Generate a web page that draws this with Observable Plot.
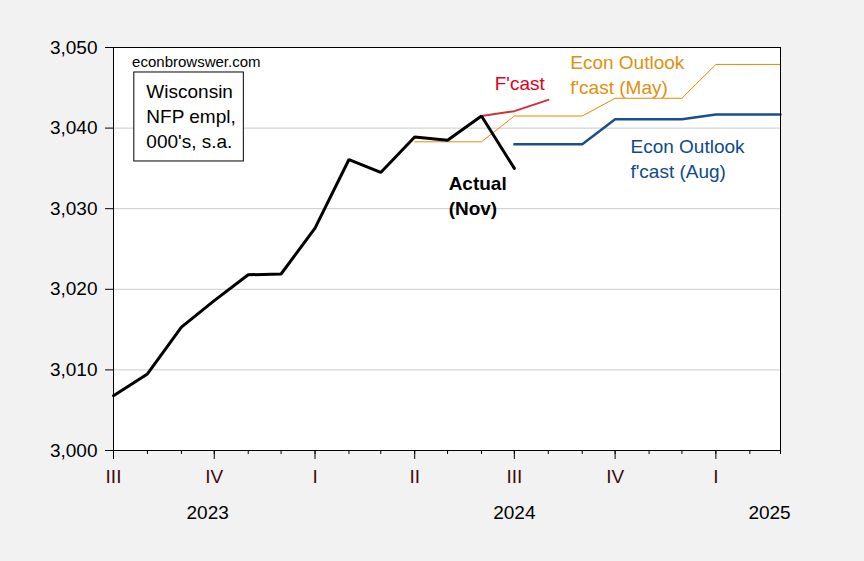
<!DOCTYPE html>
<html><head><meta charset="utf-8">
<script src="https://cdn.jsdelivr.net/npm/d3@7"></script>
<script src="https://cdn.jsdelivr.net/npm/@observablehq/plot@0.6"></script>
<style>
html,body{margin:0;padding:0;background:#f2f2f2;}
#chart{width:864px;height:561px;}
</style></head><body><div id="chart"></div>
<script>
// ---- data ----
const actualMonths = ["2023-07","2023-08","2023-09","2023-10","2023-11","2023-12","2024-01","2024-02","2024-03","2024-04","2024-05","2024-06","2024-07"];
const actualValues = [3006.8, 3009.5, 3015.3, 3018.6, 3021.8, 3021.9, 3027.6, 3036.1, 3034.5, 3038.9, 3038.5, 3041.5, 3035.0];

const fcastMonths = ["2024-06","2024-07","2024-08"];
const fcastValues = [3041.5, 3042.1, 3043.5];

const mayMonths = ["2024-04","2024-05","2024-06","2024-07","2024-08","2024-09","2024-10","2024-11","2024-12","2025-01","2025-02","2025-03"];
const mayValues = [3038.3, 3038.3, 3038.3, 3041.5, 3041.5, 3041.5, 3043.7, 3043.7, 3043.7, 3047.9, 3047.9, 3047.9];

const augMonths = ["2024-07","2024-08","2024-09","2024-10","2024-11","2024-12","2025-01","2025-02","2025-03"];
const augValues = [3038.0, 3038.0, 3038.0, 3041.1, 3041.1, 3041.1, 3041.7, 3041.7, 3041.7];

const yTicks = [3000, 3010, 3020, 3030, 3040, 3050];
const gridTicks = [3010, 3020, 3030, 3040];
const tickMonths = ["2023-07","2023-08","2023-09","2023-10","2023-11","2023-12","2024-01","2024-02","2024-03","2024-04","2024-05","2024-06","2024-07","2024-08","2024-09","2024-10","2024-11","2024-12","2025-01","2025-02","2025-03"];
const quarterMonths = ["2023-07","2023-10","2024-01","2024-04","2024-07","2024-10","2025-01"];
const quarterLabels = ["III","IV","I","II","III","IV","I"];
const yearLabels = ["2023","2024","2025"];
const yearAnchors = ["2023-09-25","2024-07-01","2025-02-19"];

// annotations (anchor date, anchor value)
const siteNote = {text: "econbrowswer.com", x: "2023-07-18", y: 3047.64};
const boxNote = {text: "Wisconsin\nNFP empl,\n000's, s.a.", x: "2023-07-31", y: 3037.47, x1: "2023-07-20", x2: "2023-10-28", y1: 3046.9, y2: 3035.86};
const fcastNote = {text: "F'cast", x: "2024-06-13", y: 3044.67};
const mayNote = {text: "Econ Outlook\nf'cast (May)", x: "2024-08-21", y: 3044.29};
const augNote = {text: "Econ Outlook\nf'cast (Aug)", x: "2024-10-15", y: 3033.75};
const actualNote = {text: "Actual\n(Nov)", x: "2024-05-02", y: 3029.28};

// ---- build ----
const pm = s => new Date(s.length === 7 ? s + "-01" : s);
const series = (months, values) => months.map((m, i) => ({date: pm(m), value: values[i]}));
const actual = series(actualMonths, actualValues);
const fcast = series(fcastMonths, fcastValues);
const may = series(mayMonths, mayValues);
const aug = series(augMonths, augValues);
const qMap = new Map(quarterMonths.map((m, i) => [+pm(m), quarterLabels[i]]));

const note = (a, opts) => Plot.text([a], {x: d => pm(d.x), y: d => d.y, text: d => d.text, textAnchor: "start", lineAnchor: "bottom", ...opts});

const RED_LINE = "#d0303c", RED_TEXT = "#e3001b";
const ORANGE = "#e08c00", ORANGE_TEXT = "#e0900c";
const BLUE = "#1a4f8c", BLUE_TEXT = "#0e4a8a";

const chart = Plot.plot({
  width: 864, height: 561,
  marginLeft: 113, marginRight: 84, marginTop: 47, marginBottom: 111,
  style: {background: "transparent", fontFamily: "'Liberation Sans', Arial, sans-serif", fontSize: "19px", color: "black", overflow: "visible"},
  x: {type: "utc", domain: [pm("2023-07"), pm("2025-03")], label: null},
  y: {domain: [3000, 3050], label: null},
  marks: [
    Plot.frame({fill: "white"}),
    Plot.gridY(gridTicks, {stroke: "#cacaca", strokeOpacity: 1}),
    Plot.axisY(yTicks, {tickSize: 8, tickPadding: 8, tickFormat: d3.format(","), fontSize: 19, label: null}),
    Plot.axisX(tickMonths.map(pm), {tickSize: 4, tickFormat: () => "", label: null}),
    Plot.axisX(quarterMonths.map(pm), {tickSize: 9, tickPadding: 10, tickFormat: d => qMap.get(+d), fontSize: 19, fill: "#3e0c0c", label: null}),
    Plot.text(yearLabels, {x: (d, i) => pm(yearAnchors[i]), text: d => d, frameAnchor: "bottom", dy: 68, lineAnchor: "bottom", fontSize: 19}),
    Plot.line(may, {x: "date", y: "value", stroke: ORANGE, strokeWidth: 1}),
    Plot.line(aug, {x: "date", y: "value", stroke: BLUE, strokeWidth: 2.5}),
    Plot.line(fcast, {x: "date", y: "value", stroke: RED_LINE, strokeWidth: 2}),
    Plot.line(actual, {x: "date", y: "value", stroke: "black", strokeWidth: 3, strokeLinejoin: "miter"}),
    Plot.rect([boxNote], {x1: d => pm(d.x1), x2: d => pm(d.x2), y1: d => d.y1, y2: d => d.y2, fill: "white", stroke: "black", strokeWidth: 1}),
    note(siteNote, {fontSize: 15, fill: "black"}),
    note(boxNote, {fontSize: 19, lineHeight: 1.316, fill: "black"}),
    note(fcastNote, {fontSize: 19, fill: RED_TEXT}),
    note(mayNote, {fontSize: 19, lineHeight: 1.316, fill: ORANGE_TEXT}),
    note(augNote, {fontSize: 19, lineHeight: 1.316, fill: BLUE_TEXT}),
    note(actualNote, {fontSize: 19, lineHeight: 1.316, fill: "black", fontWeight: "bold"}),
    Plot.frame({stroke: "black"})
  ]
});
document.getElementById("chart").append(chart);
</script>
</body></html>
